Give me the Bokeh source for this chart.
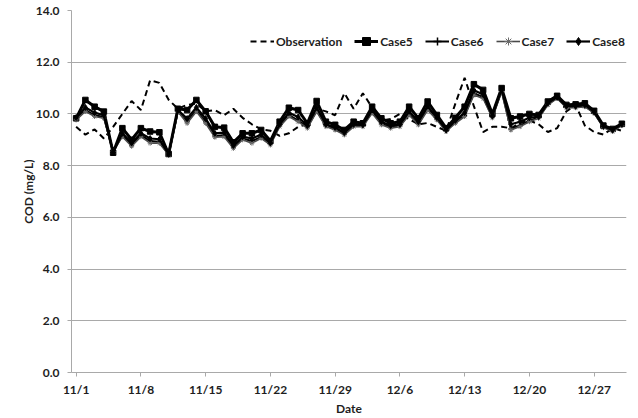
from bokeh.plotting import figure
from bokeh.models import FixedTicker, Legend, LegendItem
from bokeh.embed import file_html
from bokeh.resources import INLINE

# Daily COD, 11/1 .. 12/30 (day index 0..59)
days = list(range(60))
tick_days = [0, 7, 14, 21, 28, 35, 42, 49, 56]
tick_labels = ["11/1", "11/8", "11/15", "11/22", "11/29", "12/6", "12/13", "12/20", "12/27"]
y_ticks = [0, 2, 4, 6, 8, 10, 12, 14]

observation = [9.50, 9.20, 9.40, 9.05, 9.50, 10.00, 10.50, 10.15, 11.30, 11.20,
               10.55, 10.20, 10.35, 10.40, 10.10, 10.15, 9.95, 10.20, 9.85, 9.60,
               9.40, 9.35, 9.15, 9.25, 9.50, 9.60, 10.20, 10.10, 9.95, 10.80,
               10.20, 10.80, 10.25, 9.75, 9.80, 10.00, 9.80, 9.60, 9.65, 9.50,
               9.35, 10.40, 11.40, 10.30, 9.30, 9.50, 9.50, 9.45, 9.65, 9.75,
               9.60, 9.30, 9.45, 10.10, 10.35, 9.55, 9.30, 9.20, 9.45, 9.35]

case5 = [9.83, 10.54, 10.28, 10.09, 8.50, 9.45, 9.00, 9.45, 9.32, 9.29,
         8.45, 10.20, 10.15, 10.54, 10.10, 9.50, 9.47, 8.90, 9.25, 9.25,
         9.38, 8.95, 9.70, 10.24, 10.15, 9.64, 10.50, 9.70, 9.58, 9.38,
         9.70, 9.64, 10.28, 9.83, 9.64, 9.70, 10.28, 9.83, 10.48, 9.96,
         9.45, 9.85, 10.28, 11.15, 10.93, 10.00, 11.00, 9.83, 9.90, 10.00,
         9.96, 10.48, 10.70, 10.35, 10.37, 10.41, 10.12, 9.55, 9.42, 9.62]

case6 = [9.80, 10.15, 9.95, 9.88, 8.55, 9.18, 8.80, 9.18, 8.95, 8.92,
         8.44, 10.10, 9.70, 10.15, 9.70, 9.15, 9.18, 8.72, 9.05, 8.95,
         9.10, 8.85, 9.55, 9.95, 9.75, 9.50, 10.12, 9.55, 9.42, 9.22,
         9.55, 9.55, 10.08, 9.62, 9.50, 9.55, 10.00, 9.62, 10.20, 9.80,
         9.35, 9.70, 9.95, 10.80, 10.65, 9.88, 10.90, 9.42, 9.55, 9.74,
         9.86, 10.38, 10.62, 10.26, 10.27, 10.30, 10.05, 9.50, 9.35, 9.57]

case7 = [9.77, 10.10, 9.90, 9.83, 8.55, 9.12, 8.75, 9.12, 8.87, 8.87,
         8.42, 10.09, 9.64, 10.09, 9.64, 9.10, 9.12, 8.67, 9.00, 8.87,
         9.06, 8.80, 9.51, 9.90, 9.70, 9.45, 10.09, 9.51, 9.38, 9.19,
         9.51, 9.51, 10.03, 9.58, 9.45, 9.51, 9.96, 9.58, 10.15, 9.77,
         9.32, 9.64, 9.90, 10.73, 10.60, 9.85, 10.86, 9.38, 9.51, 9.70,
         9.83, 10.35, 10.60, 10.24, 10.24, 10.28, 10.03, 9.47, 9.32, 9.55]

case8 = [9.86, 10.25, 10.05, 9.95, 8.52, 9.25, 8.88, 9.25, 9.05, 9.02,
         8.44, 10.15, 9.82, 10.25, 9.82, 9.25, 9.28, 8.78, 9.12, 9.05,
         9.20, 8.88, 9.60, 10.05, 9.88, 9.55, 10.25, 9.60, 9.48, 9.28,
         9.60, 9.58, 10.15, 9.70, 9.55, 9.60, 10.10, 9.70, 10.30, 9.86,
         9.38, 9.75, 10.05, 10.92, 10.75, 9.92, 10.95, 9.60, 9.70, 9.85,
         9.90, 10.42, 10.65, 10.30, 10.30, 10.35, 10.08, 9.52, 9.38, 9.60]

FONT = "Lato"
GRID = "#a9a9a9"
INK = "#1e1e1e"

p = figure(width=638, height=418, output_backend="svg", toolbar_location=None,
           x_range=(-0.5, 59.5), y_range=(0, 14),
           min_border_left=71, min_border_right=12, min_border_top=10, min_border_bottom=46)
p.outline_line_color = None
p.background_fill_color = "white"
p.border_fill_color = "white"

# axes
p.xaxis.ticker = FixedTicker(ticks=tick_days)
p.xaxis.major_label_overrides = {d: t for d, t in zip(tick_days, tick_labels)}
p.yaxis.ticker = FixedTicker(ticks=y_ticks)
p.yaxis.major_label_overrides = {v: f"{v:.1f}" for v in y_ticks}
p.xaxis.axis_label = "Date"
p.yaxis.axis_label = "COD (mg/L)"
for ax in (p.xaxis, p.yaxis):
    ax.axis_line_color = GRID
    ax.major_tick_line_color = GRID
    ax.minor_tick_line_color = None
    ax.major_tick_in = 0
    ax.major_tick_out = 4
    ax.major_label_text_font = FONT
    ax.major_label_text_font_style = "bold"
    ax.major_label_text_font_size = "12px"
    ax.major_label_text_color = INK
    ax.axis_label_text_font = FONT
    ax.axis_label_text_font_style = "bold"
    ax.axis_label_text_font_size = "12px"
    ax.axis_label_text_color = INK
p.xaxis.major_label_standoff = 5
p.xaxis.axis_label_standoff = 1
p.yaxis.major_label_standoff = 8
p.yaxis.axis_label_standoff = -3

p.xgrid.grid_line_color = None
p.ygrid.grid_line_color = GRID
p.ygrid.grid_line_width = 1

# series
r_obs = p.line(days, observation, line_color="black", line_width=2, line_dash="6 4")

l5 = p.line(days, case5, line_color="black", line_width=3)
m5 = p.scatter(days, case5, marker="square", size=5.5, fill_color="black", line_color="black")

l6 = p.line(days, case6, line_color="black", line_width=2)
m6 = p.scatter(days, case6, marker="cross", size=5, line_color="black", line_width=1.5)

l7 = p.line(days, case7, line_color="#4a4a4a", line_width=1.6)
m7 = p.scatter(days, case7, marker="asterisk", size=5, line_color="#6a6a6a", line_width=1)

l8 = p.line(days, case8, line_color="black", line_width=2.2)
m8 = p.scatter(days, case8, marker="diamond", size=6, fill_color="black", line_color="black")

legend = Legend(items=[
    LegendItem(label="Observation", renderers=[r_obs]),
    LegendItem(label="Case5", renderers=[l5, m5]),
    LegendItem(label="Case6", renderers=[l6, m6]),
    LegendItem(label="Case7", renderers=[l7, m7]),
    LegendItem(label="Case8", renderers=[l8, m8]),
], orientation="horizontal", location=(179, 321))
legend.background_fill_alpha = 0
legend.border_line_color = None
legend.label_text_font = FONT
legend.label_text_font_style = "bold"
legend.label_text_font_size = "12px"
legend.label_text_color = INK
legend.glyph_width = 24
legend.label_standoff = 2
legend.spacing = 12
legend.margin = 0
legend.padding = 2
p.add_layout(legend)

open("out.html", "w").write(file_html(p, INLINE))
